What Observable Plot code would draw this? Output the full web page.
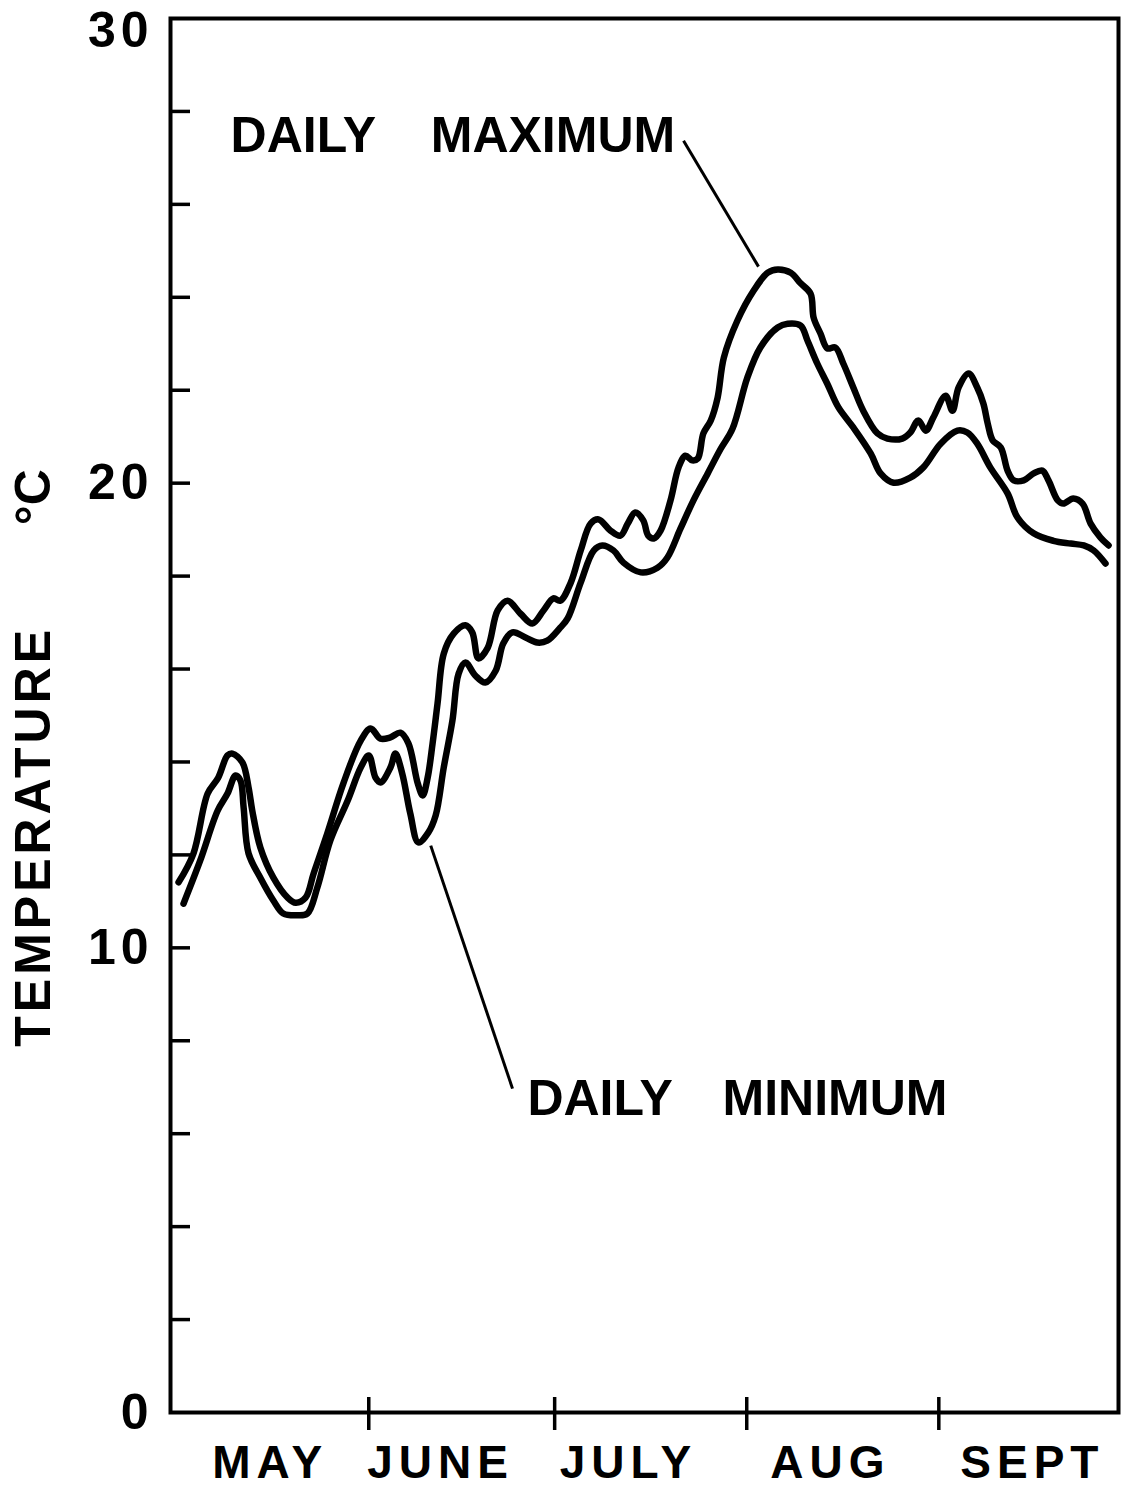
<!DOCTYPE html>
<html><head><meta charset="utf-8">
<script src="https://cdn.jsdelivr.net/npm/d3@7"></script>
<script src="https://cdn.jsdelivr.net/npm/@observablehq/plot@0.6"></script>
<style>
html,body{margin:0;padding:0;background:#fff;}
#chart svg{display:block;}
</style></head><body><div id="chart"></div>
<script>
// Days counted from May 1 (day 0)
const maxDay = [0.3,2.7,5.0,6.7,8.2,9.0,10.6,11.6,12.2,13.5,15.6,17.9,19.2,20.8,22.1,24.3,26.9,29.7,31.3,32.9,34.5,36.1,37.4,38.9,39.7,40.5,41.3,42.1,43.1,44.7,46.6,47.7,48.7,50.2,51.8,53.4,55.5,57.4,59.2,60.8,61.9,63.6,65.2,66.8,68.1,70.0,71.6,72.8,74.0,75.3,76.1,77.0,78.1,79.7,81.0,82.1,83.2,84.1,85.0,86.2,87.3,88.3,90.5,93.1,95.4,97.0,99.1,100.7,102.3,102.8,103.9,105.0,106.3,107.6,109.2,110.8,113.1,114.7,117.1,118.4,119.7,120.9,122.1,124.1,125.2,126.2,127.8,129.2,130.2,130.9,131.7,133.0,134.1,135.1,136.7,138.3,139.7,140.7,142.2,143.1,144.7,146.2,147.5,149.1,150.4];
const maxTemp = [11.41,12.03,13.32,13.66,14.14,14.18,13.99,13.45,12.95,12.16,11.51,11.08,10.97,11.08,11.60,12.46,13.54,14.46,14.72,14.50,14.53,14.63,14.40,13.54,13.28,13.66,14.40,15.26,16.33,16.76,16.94,16.79,16.23,16.46,17.26,17.47,17.19,16.98,17.26,17.52,17.47,17.86,18.55,19.13,19.22,18.98,18.87,19.13,19.37,19.20,18.87,18.81,18.98,19.63,20.34,20.59,20.49,20.53,21.07,21.35,21.84,22.70,23.50,24.14,24.53,24.60,24.53,24.30,24.08,23.56,23.22,22.90,22.92,22.57,22.06,21.56,21.07,20.96,20.96,21.09,21.35,21.13,21.41,21.88,21.56,22.06,22.36,22.06,21.71,21.28,20.92,20.77,20.27,20.06,20.06,20.21,20.27,20.06,19.63,19.56,19.67,19.56,19.13,18.83,18.66];
const minDay = [1.1,3.8,6.6,8.2,9.5,10.3,10.8,11.6,13.5,15.6,17.2,19.5,21.1,22.7,24.8,27.6,29.7,31.0,32.1,32.9,34.5,35.3,36.4,37.7,39.0,40.6,41.8,43.1,44.5,45.5,46.6,48.2,49.8,51.5,52.7,54.2,56.3,58.2,59.8,61.9,63.1,65.2,67.3,68.7,70.5,72.1,74.9,77.6,79.2,81.3,83.4,85.7,87.8,89.7,92.1,94.2,97.0,98.6,100.7,101.8,103.4,105.0,106.8,109.2,112.0,113.6,115.7,118.4,120.5,123.3,126.0,127.6,129.2,131.3,134.1,135.7,138.3,141.5,144.3,146.4,148.0,149.9];
const minTemp = [10.95,11.88,12.95,13.32,13.71,13.60,13.02,12.03,11.51,11.02,10.74,10.70,10.74,11.30,12.31,13.17,13.88,14.14,13.66,13.56,13.88,14.18,13.75,12.89,12.27,12.48,12.85,13.88,14.89,15.90,16.14,15.86,15.71,15.97,16.55,16.79,16.68,16.57,16.61,16.89,17.09,17.86,18.55,18.66,18.55,18.29,18.08,18.18,18.40,19.02,19.63,20.21,20.74,21.17,22.27,22.92,23.35,23.43,23.39,23.07,22.57,22.14,21.63,21.20,20.64,20.21,20.01,20.12,20.34,20.85,21.13,21.09,20.85,20.34,19.78,19.26,18.92,18.76,18.70,18.66,18.55,18.27];

const monthTickDays = [31, 61, 92, 123];
const monthNames = ["MAY", "JUNE", "JULY", "AUG", "SEPT"];
const monthLabelDays = [15.1, 42.6, 72.9, 105.5, 138.1];
const yLabelTicks = [0, 10, 20];
const yTopLabelTick = [30];
const yMinorTicks = [2, 4, 6, 8, 10, 12, 14, 16, 18, 20, 22, 24, 26, 28];
const yTitleParts = ["TEMPERATURE", "°C"];
const yTitleTemps = [12.4, 19.7];
const annoWords = ["DAILY", "MAXIMUM", "DAILY", "MINIMUM"];
const annoDays = [8.7, 41.0, 56.6, 88.1];
const annoTemps = [27.48, 27.48, 6.74, 6.74];
const leaderX1 = [81.8, 41.0];
const leaderY1 = [27.37, 12.2];
const leaderX2 = [93.9, 54.2];
const leaderY2 = [24.66, 6.97];

const maxData = maxDay.map((d, i) => ({day: d, temp: maxTemp[i]}));
const minData = minDay.map((d, i) => ({day: d, temp: minTemp[i]}));
const annoData = annoWords.map((w, i) => ({w, day: annoDays[i], temp: annoTemps[i]}));
const leaderData = leaderX1.map((x, i) => ({x1: x, y1: leaderY1[i], x2: leaderX2[i], y2: leaderY2[i]}));
const monthData = monthNames.map((m, i) => ({m, day: monthLabelDays[i]}));
const titleData = yTitleParts.map((t, i) => ({t, temp: yTitleTemps[i]}));

const font = "'Liberation Sans', Arial, sans-serif";

const chart = Plot.plot({
  width: 1121,
  height: 1491,
  marginLeft: 170,
  marginRight: 3,
  marginTop: 18,
  marginBottom: 79,
  style: {fontFamily: font, background: "#fff", color: "#000"},
  x: {domain: [-1, 152], axis: null},
  y: {domain: [0, 30], axis: null},
  marks: [
    Plot.axisY({ticks: yMinorTicks, tickSize: -20, strokeWidth: 3.5, fill: "none", label: null}),
    Plot.axisY({ticks: yLabelTicks, tickSize: 0, tickPadding: 17, fontSize: 50, fontWeight: "bold", label: null}),
    Plot.axisY({ticks: yTopLabelTick, tickSize: 0, tickPadding: 17, dy: 12, fontSize: 50, fontWeight: "bold", label: null}),
    Plot.axisX({ticks: monthTickDays, tickSize: 18, strokeWidth: 3.5, fill: "none", label: null}),
    Plot.axisX({ticks: monthTickDays, tickSize: -15, strokeWidth: 3.5, fill: "none", label: null}),
    Plot.frame({stroke: "#000", strokeWidth: 4}),
    Plot.text(monthData, {x: "day", text: "m", frameAnchor: "bottom", dy: 65, fontSize: 46, fontWeight: "bold", fill: "#000"}),
    Plot.text(titleData, {y: "temp", text: "t", frameAnchor: "left", textAnchor: "middle", dx: -137, rotate: -90, fontSize: 50, fontWeight: "bold", fill: "#000"}),
    Plot.line(maxData, {x: "day", y: "temp", curve: "catmull-rom", stroke: "#000", strokeWidth: 6.5, strokeLinejoin: "round", strokeLinecap: "round"}),
    Plot.line(minData, {x: "day", y: "temp", curve: "catmull-rom", stroke: "#000", strokeWidth: 6.5, strokeLinejoin: "round", strokeLinecap: "round"}),
    Plot.link(leaderData, {x1: "x1", y1: "y1", x2: "x2", y2: "y2", stroke: "#000", strokeWidth: 3}),
    Plot.text(annoData, {x: "day", y: "temp", text: "w", textAnchor: "start", fontSize: 50, fontWeight: "bold", fill: "#000"})
  ]
});

document.getElementById("chart").appendChild(chart);
// letter spacing by text group
const spacing = (t) => {
  if (monthNames.includes(t)) return "6px";
  if (t === "TEMPERATURE") return "4px";
  if (["0", "10", "20", "30"].includes(t)) return "5px";
  return null;
};
d3.select(chart).selectAll("text").each(function() {
  const s = spacing(this.textContent.trim());
  if (s) this.style.letterSpacing = s;
});
</script></body></html>
